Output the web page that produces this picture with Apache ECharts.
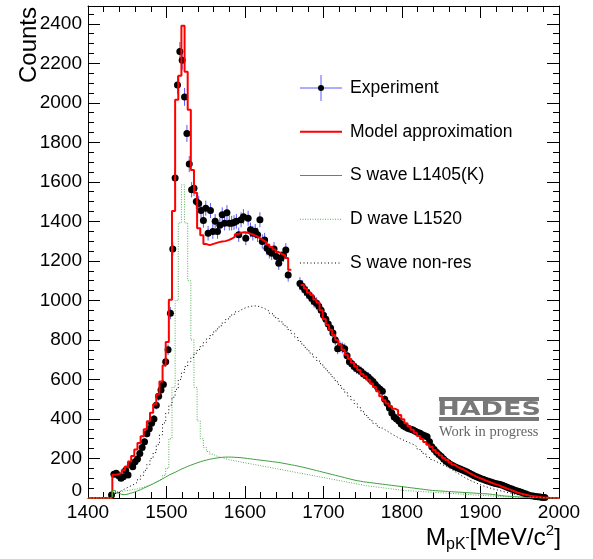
<!DOCTYPE html>
<html><head><meta charset="utf-8">
<script src="https://cdn.jsdelivr.net/npm/echarts@6/dist/echarts.min.js"></script>
<style>html,body{margin:0;padding:0;background:#fff}#c{width:593px;height:559px}</style>
</head><body><div id="c"></div>
<script>
// ---------- data ----------
const xTickLabels = ['1400','1500','1600','1700','1800','1900','2000'];
const yTickLabels = ['0','200','400','600','800','1000','1200','1400','1600','1800','2000','2200','2400'];
const legendNames = ['Experiment','Model approximation','S wave L1405(K)','D wave L1520','S wave non-res'];

// model histograms: bins of width 4 MeV starting at 1431 MeV
const binLow = 1431, binWidth = 4;

const modelApprox = [
 118,120,128,142,160,185,212,245,278,312,
 348,388,432,475,525,590,670,790,1003,1453,
 2015,2137,2390,2157,1965,1660,1545,1365,1330,1285,
 1280,1285,1290,1295,1298,1300,1305,1312,1322,1335,
 1342,1345,1342,1338,1332,1325,1315,1305,1295,1283,
 1270,1258,1245,1235,1228,1215,1155,null,null,null,
 1078,1060,1040,1028,1005,990,950,906,875,851,
 825,800,775,750,725,705,685,665,648,628,
 615,598,580,562,540,515,495,478,465,452,
 445,420,398,378,362,346,330,314,298,283,
 270,258,243,228,215,203,192,180,168,158,
 150,143,133,124,116,108,101,95,88,82,
 76,70,65,58,52,46,41,34,28,23,
 19,15,11,9,7,5,3,2,1
];

const sWaveL1405 = [
 38,25,18,17,20,25,30,36,42,50,
 57,64,72,80,88,97,106,115,123,130,
 138,146,153,160,166,172,178,183,188,192,
 196,199,202,204,206,207,207,207,206,205,
 204,202,200,198,196,194,192,190,188,186,
 184,182,180,177,174,171,168,165,162,158,
 155,151,147,143,139,135,131,127,123,119,
 115,111,107,103,99,95,91,88,85,82,
 80,78,76,74,72,70,68,66,64,62,
 60,58,56,54,52,50,48,46,44,42,
 40,38,37,36,35,34,33,32,31,30,
 29,28,27,26,25,24,23,22,21,20,
 18,16,14,12,10,9,8,7,6,5,
 4,3,3,2,2,1,1,1,0
];

const dWaveL1520 = [
 30,32,34,36,38,41,44,47,51,55,
 60,66,73,81,90,100,115,150,300,560,
 1000,1392,1585,1392,1100,800,560,390,300,255,
 235,222,214,208,204,199,195,191,188,185,
 182,179,176,173,170,167,164,161,158,155,
 152,149,146,143,140,137,134,131,128,125,
 122,119,116,113,110,107,104,101,98,95,
 92,89,86,83,80,77,74,71,68,65,
 62,60,58,56,54,52,50,48,46,44,
 42,40,38,37,36,35,34,33,32,31,
 30,29,28,27,26,25,24,23,22,21,
 20,19,18,17,16,15,14,13,12,11,
 10,9,8,7,6,5,5,4,4,3,
 3,2,2,2,1,1,1,0,0
];

const sWaveNonRes = [
 15,28,38,46,55,62,70,80,95,115,
 140,170,200,230,270,320,380,430,470,510,
 550,600,635,665,690,712,733,752,770,788,
 805,822,840,856,872,888,903,917,930,942,
 952,960,966,970,972,972,968,962,955,946,
 935,922,908,895,880,865,848,832,815,797,
 780,762,745,728,712,696,680,662,644,626,
 607,588,569,550,532,514,496,478,460,442,
 424,407,391,377,365,354,344,334,324,315,
 306,298,291,284,277,270,260,248,236,222,
 208,195,185,178,170,162,155,145,135,125,
 115,106,97,89,82,75,68,62,57,52,
 47,43,39,35,31,27,24,20,17,14,
 11,9,7,5,4,3,2,1,0
];

// experiment: [mass MeV, counts, error]
const experiment = [
 [1430,15,4],[1433,120,11],[1436,125,11],[1439,112,11],[1442,100,10],[1445,108,10],[1448,140,12],[1451,116,11],[1454,170,13],[1457,158,13],
 [1460,184,14],[1463,197,14],[1466,225,15],[1469,255,16],[1472,285,17],[1475,325,18],[1478,350,19],[1481,378,19],[1484,400,20],[1487,470,22],
 [1490,515,23],[1493,547,23],[1496,575,24],[1499,690,26],[1502,750,27],[1505,935,31],[1508,1260,35],[1511,1620,40],[1514,2090,46],[1517,2260,48],
 [1520,2215,47],[1523,2030,45],[1526,1845,43],[1529,1690,41],[1532,1560,39],[1535,1568,40],[1538,1500,39],[1541,1490,39],[1544,1455,38],[1547,1405,37],
 [1550,1467,38],[1553,1340,37],[1556,1455,38],[1559,1349,37],[1562,1400,37],[1565,1349,37],[1568,1380,37],[1571,1433,38],[1574,1391,37],[1577,1444,38],
 [1580,1391,37],[1583,1391,37],[1586,1394,37],[1589,1400,37],[1592,1332,36],[1595,1408,38],[1598,1424,38],[1601,1315,36],[1604,1416,38],[1607,1357,37],
 [1610,1340,37],[1613,1350,37],[1616,1332,36],[1619,1408,38],[1622,1298,36],[1625,1306,36],[1628,1264,36],[1631,1247,35],[1634,1239,35],[1637,1260,35],
 [1640,1222,35],[1643,1188,34],[1646,1215,35],[1649,1230,35],[1652,1255,35],[1655,1129,34],
 [1670,1085,33],[1673,1070,33],[1676,1055,32],[1679,1040,32],[1682,1025,32],[1685,1011,32],[1688,995,32],[1691,985,31],[1694,970,31],[1697,950,31],
 [1700,925,30],[1703,905,30],[1706,880,30],[1709,860,29],[1712,835,29],[1715,800,28],[1718,755,27],[1721,765,28],[1724,760,28],[1727,755,27],
 [1730,720,27],[1733,690,26],[1736,680,26],[1739,665,26],[1742,655,26],[1745,648,25],[1748,640,25],[1751,628,25],[1754,620,25],[1757,612,25],
 [1760,600,24],[1763,590,24],[1766,575,24],[1769,560,24],[1772,550,23],[1775,540,23],[1778,500,22],[1781,480,22],[1784,455,21],[1787,430,21],
 [1790,410,20],[1793,400,20],[1796,390,20],[1799,375,19],[1802,365,19],[1805,358,19],[1808,352,19],[1811,348,19],[1814,344,19],[1817,338,18],
 [1820,332,18],[1823,328,18],[1826,320,18],[1829,315,18],[1832,310,18],[1835,285,17],[1838,260,16],[1841,245,16],[1844,232,15],[1847,220,15],
 [1850,210,14],[1853,198,14],[1856,186,14],[1859,178,13],[1862,170,13],[1865,163,13],[1868,157,13],[1871,152,12],[1874,147,12],[1877,142,12],
 [1880,137,12],[1883,131,11],[1886,125,11],[1889,119,11],[1892,113,11],[1895,108,10],[1898,102,10],[1901,97,10],[1904,93,10],[1907,89,9],
 [1910,85,9],[1913,81,9],[1916,77,9],[1919,74,9],[1922,71,8],[1925,68,8],[1928,64,8],[1931,59,8],[1934,54,7],[1937,49,7],
 [1940,45,7],[1943,41,6],[1946,37,6],[1949,33,6],[1952,29,5],[1955,24,5],[1958,20,4],[1961,15,4],[1964,12,3],[1967,10,3],
 [1970,8,3],[1973,6,2],[1976,5,2],[1979,3,2],[1982,2,1]
];

// ---------- helpers ----------
const X_MIN = 1400, X_MAX = 2000;
function histPoints(values) {
  const pts = [[X_MIN, 0]];
  for (let i = 0; i < values.length; i++) {
    const lo = binLow + i * binWidth, hi = lo + binWidth, v = values[i];
    if (v === null) { pts.push([lo, null]); continue; }
    pts.push([lo, v]);
    const next = values[i + 1];
    if (next === null || next === undefined) pts.push([hi, v]);
  }
  const end = binLow + values.length * binWidth;
  pts.push([end, 0]);
  pts.push([X_MAX, 0]);
  return pts;
}
function svgIcon(body) {
  return 'image://data:image/svg+xml;charset=utf-8,' + encodeURIComponent(
    "<svg xmlns='http://www.w3.org/2000/svg' width='42' height='26' viewBox='0 0 42 26'>" + body + "</svg>");
}
const COL_RED = '#ff0000', COL_GREEN = '#3f9f3f', COL_GREEN2 = '#52b052', COL_BLUE = '#5a5aff';
const FONT = 'Liberation Sans';

const chart = echarts.init(document.getElementById('c'), null, {renderer: 'canvas'});

const axisCommonX = {
  type: 'value', min: X_MIN, max: X_MAX, interval: 100,
  axisLine: {show: true, onZero: false, lineStyle: {color: '#000', width: 1}},
  axisTick: {show: true, inside: true, length: 12, lineStyle: {color: '#000', width: 1}},
  minorTick: {show: true, splitNumber: 5, length: 6, lineStyle: {color: '#000', width: 1}},
  splitLine: {show: false}, minorSplitLine: {show: false}
};
const axisCommonY = {
  type: 'value', min: 0, max: 2490, interval: 200,
  axisLine: {show: true, onZero: false, lineStyle: {color: '#000', width: 1}},
  axisTick: {show: true, inside: true, length: 12, lineStyle: {color: '#000', width: 1}},
  minorTick: {show: true, splitNumber: 4, length: 6, lineStyle: {color: '#000', width: 1}},
  splitLine: {show: false}, minorSplitLine: {show: false}
};

const option = {
  animation: false,
  backgroundColor: '#fff',
  grid: {left: 88, right: 34, top: 6, bottom: 61, containLabel: false},
  xAxis: [
    Object.assign({}, axisCommonX, {position: 'bottom',
      axisLabel: {show: true, fontSize: 19, color: '#000', fontFamily: FONT, margin: 5,
        formatter: v => xTickLabels.includes(String(v)) ? String(v) : ''}}),
    Object.assign({}, axisCommonX, {position: 'top', axisLabel: {show: false}})
  ],
  yAxis: [
    Object.assign({}, axisCommonY, {position: 'left',
      axisLabel: {show: true, fontSize: 19, color: '#000', fontFamily: FONT, margin: 6, showMaxLabel: false,
        formatter: v => v === 0 ? '{z|0}' : (yTickLabels.includes(String(v)) ? String(v) : ''),
        rich: {z: {fontSize: 19, color: '#000', fontFamily: FONT, padding: [0, 0, 14, 0]}}}}),
    Object.assign({}, axisCommonY, {position: 'right', axisLabel: {show: false}})
  ],
  legend: {
    orient: 'vertical', left: 300, top: 75, padding: 0, itemWidth: 42, itemHeight: 26, itemGap: 17.75,
    selectedMode: false,
    textStyle: {fontSize: 17.5, color: '#000', fontFamily: FONT, padding: [0, 0, 0, 3]},
    data: [
      {name: legendNames[0], icon: svgIcon("<line x1='0' y1='13' x2='42' y2='13' stroke='" + COL_BLUE + "' stroke-width='1'/><line x1='21' y1='0' x2='21' y2='26' stroke='" + COL_BLUE + "' stroke-width='1'/><circle cx='21' cy='13' r='3' fill='#000'/>")},
      {name: legendNames[1], icon: svgIcon("<line x1='0' y1='13' x2='42' y2='13' stroke='" + COL_RED + "' stroke-width='2'/>")},
      {name: legendNames[2], icon: svgIcon("<line x1='0' y1='13' x2='42' y2='13' stroke='" + COL_GREEN + "' stroke-width='1'/>")},
      {name: legendNames[3], icon: svgIcon("<line x1='0' y1='13' x2='42' y2='13' stroke='" + COL_GREEN2 + "' stroke-width='1' stroke-dasharray='1,1.5'/>")},
      {name: legendNames[4], icon: svgIcon("<line x1='0' y1='13' x2='42' y2='13' stroke='#000' stroke-width='1' stroke-dasharray='1,2.5'/>")}
    ]
  },
  graphic: [
    {type: 'text', x: 29, y: 7, rotation: Math.PI / 2, z: 100,
      style: {text: 'Counts', fontSize: 24, fontFamily: FONT, fill: '#000', align: 'right', verticalAlign: 'middle'}},
    {type: 'text', x: 561, y: 523, z: 100,
      style: {text: '{m|M}{s|pK}{ss|-}{m|[MeV/c}{p|2}{m|]}', align: 'right', verticalAlign: 'top',
        rich: {
          m: {fontSize: 24.5, fontFamily: FONT, lineHeight: 30, verticalAlign: 'middle', fill: '#000'},
          s: {fontSize: 16, fontFamily: FONT, lineHeight: 16, verticalAlign: 'bottom', fill: '#000'},
          ss: {fontSize: 12, fontFamily: FONT, lineHeight: 12, verticalAlign: 'middle', fill: '#000'},
          p: {fontSize: 15, fontFamily: FONT, lineHeight: 15, verticalAlign: 'top', fill: '#000'}
        }}},
    {type: 'rect', shape: {x: 439, y: 397, width: 100, height: 4}, style: {fill: '#787878'}, z: 100},
    {type: 'text', x: 489, y: 410, scaleX: 1.42, z: 100,
      style: {text: 'HADES', fontSize: 19, fontWeight: 'bold', fontFamily: 'DejaVu Sans', fill: '#787878', align: 'center', verticalAlign: 'middle'}},
    {type: 'rect', shape: {x: 439, y: 417, width: 100, height: 4}, style: {fill: '#787878'}, z: 100},
    {type: 'text', x: 439, y: 432, z: 100,
      style: {text: 'Work in progress', fontSize: 14.5, fontFamily: 'Liberation Serif', fill: '#666', align: 'left', verticalAlign: 'middle'}}
  ],
  series: [
    {name: legendNames[0], type: 'custom', xAxisIndex: 0, yAxisIndex: 0, z: 2,
      data: experiment, encode: {x: 0, y: 1},
      renderItem: function (params, api) {
        const x = api.value(0), y = api.value(1), e = api.value(2);
        const p1 = api.coord([x, y - e]), p2 = api.coord([x, y + e]);
        return {type: 'line', shape: {x1: p1[0], y1: p1[1], x2: p2[0], y2: p2[1]},
          style: {stroke: COL_BLUE, lineWidth: 1}};
      }},
    {name: legendNames[0], type: 'scatter', xAxisIndex: 0, yAxisIndex: 0, z: 3,
      data: experiment.map(d => [d[0], d[1]]), symbol: 'circle', symbolSize: 7,
      itemStyle: {color: '#000', opacity: 1}},
    {name: legendNames[1], type: 'line', step: 'end', z: 4, data: histPoints(modelApprox),
      showSymbol: false, symbol: 'none', connectNulls: false,
      lineStyle: {color: COL_RED, width: 2}, itemStyle: {color: COL_RED}},
    {name: legendNames[2], type: 'line', step: 'end', z: 5, data: histPoints(sWaveL1405),
      showSymbol: false, symbol: 'none', lineStyle: {color: COL_GREEN, width: 1}, itemStyle: {color: COL_GREEN}},
    {name: legendNames[3], type: 'line', step: 'end', z: 5, data: histPoints(dWaveL1520),
      showSymbol: false, symbol: 'none', lineStyle: {color: COL_GREEN2, width: 1, type: [1, 1.5]}, itemStyle: {color: COL_GREEN2}},
    {name: legendNames[4], type: 'line', step: 'end', z: 5, data: histPoints(sWaveNonRes),
      showSymbol: false, symbol: 'none', lineStyle: {color: '#000', width: 1, type: [1, 2.5]}, itemStyle: {color: '#000'}}
  ]
};
chart.setOption(option);
</script>
</body></html>
